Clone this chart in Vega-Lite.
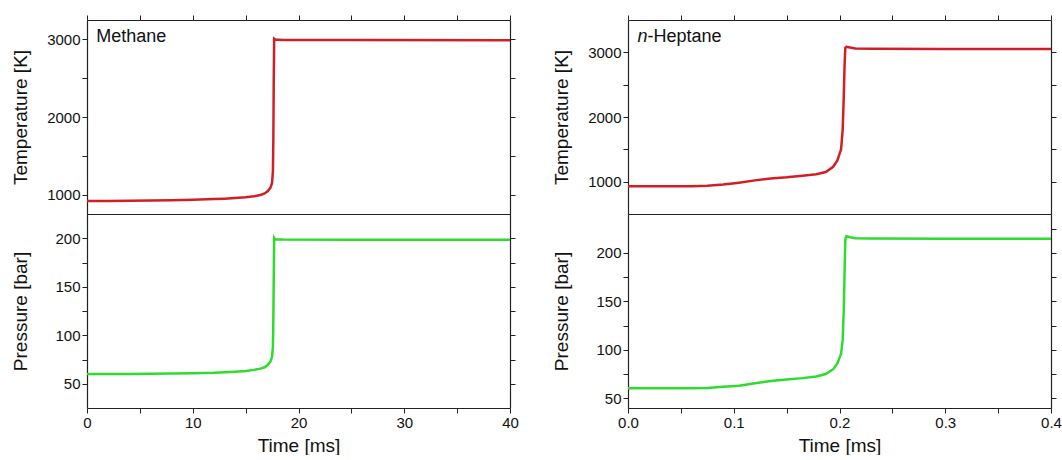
{
  "$schema": "https://vega.github.io/schema/vega-lite/v6.json",
  "padding": {"left": 10, "top": 14, "right": 0, "bottom": 0},
  "background": "white",
  "datasets": {
    "methane": [
      {"t": 0, "T": 918, "P": 60},
      {"t": 2, "T": 919, "P": 60},
      {"t": 4, "T": 921, "P": 60.1},
      {"t": 6, "T": 924, "P": 60.3},
      {"t": 8, "T": 928, "P": 60.5},
      {"t": 10, "T": 934, "P": 60.8},
      {"t": 12, "T": 942, "P": 61.3},
      {"t": 13, "T": 947, "P": 61.8},
      {"t": 14, "T": 955, "P": 62.4},
      {"t": 15, "T": 965, "P": 63.2},
      {"t": 15.8, "T": 978, "P": 64.3},
      {"t": 16.4, "T": 995, "P": 65.6},
      {"t": 16.8, "T": 1015, "P": 67},
      {"t": 17.1, "T": 1045, "P": 69.5},
      {"t": 17.35, "T": 1090, "P": 73},
      {"t": 17.5, "T": 1150, "P": 78},
      {"t": 17.58, "T": 1300, "P": 88},
      {"t": 17.62, "T": 1700, "P": 115},
      {"t": 17.66, "T": 2500, "P": 160},
      {"t": 17.7, "T": 3008, "P": 200.5},
      {"t": 17.8, "T": 2998, "P": 199},
      {"t": 18.5, "T": 2992, "P": 198.6},
      {"t": 25, "T": 2991, "P": 198.5},
      {"t": 40, "T": 2990, "P": 198.5}
    ],
    "heptane": [
      {"t": 0, "T": 930, "P": 60.3},
      {"t": 0.03, "T": 930, "P": 60.3},
      {"t": 0.06, "T": 931, "P": 60.4},
      {"t": 0.075, "T": 935, "P": 60.6},
      {"t": 0.09, "T": 955, "P": 61.8},
      {"t": 0.105, "T": 985, "P": 63},
      {"t": 0.12, "T": 1020, "P": 65.5},
      {"t": 0.135, "T": 1050, "P": 67.8},
      {"t": 0.15, "T": 1068, "P": 69.3},
      {"t": 0.165, "T": 1092, "P": 70.8},
      {"t": 0.178, "T": 1115, "P": 72.5},
      {"t": 0.187, "T": 1150, "P": 75},
      {"t": 0.194, "T": 1230, "P": 80},
      {"t": 0.198, "T": 1330, "P": 86},
      {"t": 0.2015, "T": 1500, "P": 96},
      {"t": 0.203, "T": 1800, "P": 110},
      {"t": 0.204, "T": 2300, "P": 140},
      {"t": 0.2048, "T": 2800, "P": 180},
      {"t": 0.2055, "T": 3070, "P": 214},
      {"t": 0.2065, "T": 3085, "P": 217},
      {"t": 0.21, "T": 3075, "P": 216},
      {"t": 0.215, "T": 3060, "P": 215},
      {"t": 0.23, "T": 3055, "P": 214.8},
      {"t": 0.3, "T": 3052, "P": 214.6},
      {"t": 0.4, "T": 3050, "P": 214.5}
    ]
  },
  "hconcat": [
    {
      "vconcat": [
        {
          "width": 423, "height": 194,
          "layer": [
            {
              "data": {"name": "methane"},
              "mark": {"type": "line", "color": "#d21f26", "strokeWidth": 2.5},
              "encoding": {
                "x": {"field": "t", "type": "quantitative", "scale": {"domain": [0, 40], "nice": false, "zero": false}, "axis": {"orient": "bottom", "labels": false, "ticks": false, "title": null}},
                "y": {"field": "T", "type": "quantitative", "scale": {"domain": [750, 3250], "nice": false, "zero": false}, "axis": {"orient": "left", "values": [1000, 1500, 2000, 2500, 3000], "format": "d", "labelExpr": "datum.value % 1000 === 0 ? datum.label : ''", "title": "Temperature [K]", "titleX": -57, "titleY": 97, "titleAngle": -90, "titleAlign": "center", "titleBaseline": "bottom"}}
              }
            },
            {
              "data": {"name": "methane"},
              "mark": {"type": "line", "opacity": 0},
              "encoding": {
                "x": {"field": "t", "type": "quantitative", "scale": {"domain": [0, 40], "nice": false, "zero": false}, "axis": {"orient": "top", "values": [0, 5, 10, 15, 20, 25, 30, 35, 40], "labels": false, "title": null}},
                "y": {"field": "T", "type": "quantitative", "scale": {"domain": [750, 3250], "nice": false, "zero": false}, "axis": {"orient": "right", "values": [1000, 1500, 2000, 2500, 3000], "labels": false, "title": null}}
              }
            },
            {
              "data": {"values": [{"t": 0.88, "v": 2965, "label": "Methane"}]},
              "mark": {"type": "text", "align": "left", "baseline": "alphabetic", "fontSize": 18, "color": "#111"},
              "encoding": {
                "x": {"field": "t", "type": "quantitative", "scale": {"domain": [0, 40], "nice": false, "zero": false}, "axis": null},
                "y": {"field": "v", "type": "quantitative", "scale": {"domain": [750, 3250], "nice": false, "zero": false}, "axis": null},
                "text": {"field": "label"}
              }
            }
          ],
          "resolve": {"axis": {"x": "independent", "y": "independent"}}
        },
        {
          "width": 423, "height": 194,
          "layer": [
            {
              "data": {"name": "methane"},
              "mark": {"type": "line", "color": "#2ddc2d", "strokeWidth": 2.5},
              "encoding": {
                "x": {"field": "t", "type": "quantitative", "scale": {"domain": [0, 40], "nice": false, "zero": false}, "axis": {"orient": "bottom", "values": [0, 5, 10, 15, 20, 25, 30, 35, 40], "format": "d", "labelExpr": "datum.value % 10 === 0 ? datum.label : ''", "title": "Time [ms]", "titlePadding": 6}},
                "y": {"field": "P", "type": "quantitative", "scale": {"domain": [25, 225], "nice": false, "zero": false}, "axis": {"orient": "left", "values": [50, 75, 100, 125, 150, 175, 200], "format": "d", "labelExpr": "datum.value % 50 === 0 ? datum.label : ''", "title": "Pressure [bar]", "titleX": -57, "titleY": 97, "titleAngle": -90, "titleAlign": "center", "titleBaseline": "bottom"}}
              }
            },
            {
              "data": {"name": "methane"},
              "mark": {"type": "line", "opacity": 0},
              "encoding": {
                "x": {"field": "t", "type": "quantitative", "scale": {"domain": [0, 40], "nice": false, "zero": false}, "axis": {"orient": "top", "labels": false, "ticks": false, "title": null}},
                "y": {"field": "P", "type": "quantitative", "scale": {"domain": [25, 225], "nice": false, "zero": false}, "axis": {"orient": "right", "values": [50, 75, 100, 125, 150, 175, 200], "labels": false, "title": null}}
              }
            }
          ],
          "resolve": {"axis": {"x": "independent", "y": "independent"}}
        }
      ],
      "spacing": 0
    },
    {
      "vconcat": [
        {
          "width": 423, "height": 194,
          "layer": [
            {
              "data": {"name": "heptane"},
              "mark": {"type": "line", "color": "#d21f26", "strokeWidth": 2.5},
              "encoding": {
                "x": {"field": "t", "type": "quantitative", "scale": {"domain": [0, 0.4], "nice": false, "zero": false}, "axis": {"orient": "bottom", "labels": false, "ticks": false, "title": null}},
                "y": {"field": "T", "type": "quantitative", "scale": {"domain": [500, 3500], "nice": false, "zero": false}, "axis": {"orient": "left", "values": [1000, 1500, 2000, 2500, 3000], "format": "d", "labelExpr": "datum.value % 1000 === 0 ? datum.label : ''", "title": "Temperature [K]", "titleX": -57, "titleY": 97, "titleAngle": -90, "titleAlign": "center", "titleBaseline": "bottom"}}
              }
            },
            {
              "data": {"name": "heptane"},
              "mark": {"type": "line", "opacity": 0},
              "encoding": {
                "x": {"field": "t", "type": "quantitative", "scale": {"domain": [0, 0.4], "nice": false, "zero": false}, "axis": {"orient": "top", "values": [0, 0.05, 0.1, 0.15, 0.2, 0.25, 0.3, 0.35, 0.4], "labels": false, "title": null}},
                "y": {"field": "T", "type": "quantitative", "scale": {"domain": [500, 3500], "nice": false, "zero": false}, "axis": {"orient": "right", "values": [1000, 1500, 2000, 2500, 3000], "labels": false, "title": null}}
              }
            },
            {
              "data": {"values": [{"t": 0.0089, "v": 3159, "label": "n"}]},
              "mark": {"type": "text", "align": "left", "baseline": "alphabetic", "fontSize": 18, "fontStyle": "italic", "color": "#111"},
              "encoding": {
                "x": {"field": "t", "type": "quantitative", "scale": {"domain": [0, 0.4], "nice": false, "zero": false}, "axis": null},
                "y": {"field": "v", "type": "quantitative", "scale": {"domain": [500, 3500], "nice": false, "zero": false}, "axis": null},
                "text": {"field": "label"}
              }
            },
            {
              "data": {"values": [{"t": 0.0185, "v": 3159, "label": "-Heptane"}]},
              "mark": {"type": "text", "align": "left", "baseline": "alphabetic", "fontSize": 18, "color": "#111"},
              "encoding": {
                "x": {"field": "t", "type": "quantitative", "scale": {"domain": [0, 0.4], "nice": false, "zero": false}, "axis": null},
                "y": {"field": "v", "type": "quantitative", "scale": {"domain": [500, 3500], "nice": false, "zero": false}, "axis": null},
                "text": {"field": "label"}
              }
            }
          ],
          "resolve": {"axis": {"x": "independent", "y": "independent"}}
        },
        {
          "width": 423, "height": 194,
          "layer": [
            {
              "data": {"name": "heptane"},
              "mark": {"type": "line", "color": "#2ddc2d", "strokeWidth": 2.5},
              "encoding": {
                "x": {"field": "t", "type": "quantitative", "scale": {"domain": [0, 0.4], "nice": false, "zero": false}, "axis": {"orient": "bottom", "values": [0, 0.05, 0.1, 0.15, 0.2, 0.25, 0.3, 0.35, 0.4], "format": ".1f", "labelExpr": "abs(datum.value * 10 - round(datum.value * 10)) < 0.000001 ? datum.label : ''", "title": "Time [ms]", "titlePadding": 6}},
                "y": {"field": "P", "type": "quantitative", "scale": {"domain": [40, 240], "nice": false, "zero": false}, "axis": {"orient": "left", "values": [50, 75, 100, 125, 150, 175, 200], "format": "d", "labelExpr": "datum.value % 50 === 0 ? datum.label : ''", "title": "Pressure [bar]", "titleX": -57, "titleY": 97, "titleAngle": -90, "titleAlign": "center", "titleBaseline": "bottom"}}
              }
            },
            {
              "data": {"name": "heptane"},
              "mark": {"type": "line", "opacity": 0},
              "encoding": {
                "x": {"field": "t", "type": "quantitative", "scale": {"domain": [0, 0.4], "nice": false, "zero": false}, "axis": {"orient": "top", "labels": false, "ticks": false, "title": null}},
                "y": {"field": "P", "type": "quantitative", "scale": {"domain": [40, 240], "nice": false, "zero": false}, "axis": {"orient": "right", "values": [50, 75, 100, 125, 150, 175, 200, 225], "labels": false, "title": null}}
              }
            }
          ],
          "resolve": {"axis": {"x": "independent", "y": "independent"}}
        }
      ],
      "spacing": 0
    }
  ],
  "spacing": 32,
  "config": {
    "font": "Liberation Sans",
    "view": {"stroke": null},
    "axis": {
      "grid": false,
      "domainColor": "#222",
      "tickColor": "#222",
      "labelColor": "#111",
      "titleColor": "#111",
      "labelFontSize": 15,
      "titleFontSize": 19,
      "titleFontWeight": "normal",
      "tickSize": 5,
      "labelPadding": 2,
      "labelFlush": false,
      "labelOverlap": false,
      "domainWidth": 1.2
    }
  }
}
